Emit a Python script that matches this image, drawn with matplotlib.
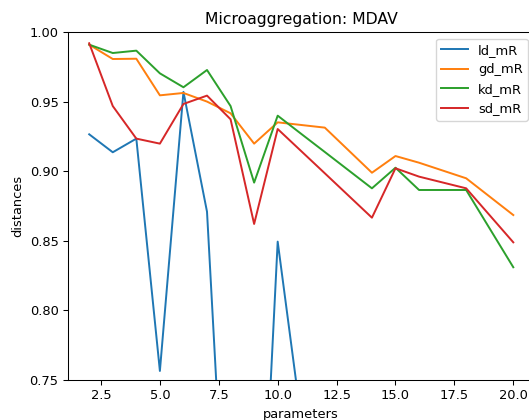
import matplotlib
matplotlib.use("Agg")
import matplotlib.pyplot as plt

# parameter values (x axis)
params = [2, 3, 4, 5, 6, 7, 8, 9, 10, 11, 12, 14, 15, 16, 18, 20]

# distances per measure
ld_mR = [0.9265, 0.9136, 0.9234, 0.7565, 0.9570, 0.8709, 0.56, 0.51, 0.8494, 0.721,
         0.62, 0.60, 0.63, 0.61, 0.60, 0.58]
gd_mR = [0.9909, 0.9806, 0.9808, 0.9545, 0.9562, 0.9500, 0.9416, 0.9198, 0.9351, 0.9332,
         0.9313, 0.8989, 0.9109, 0.9061, 0.8949, 0.8685]
kd_mR = [0.9909, 0.9849, 0.9866, 0.9703, 0.9603, 0.9727, 0.9468, 0.8918, 0.9399, 0.9268,
         0.9138, 0.8877, 0.9025, 0.8865, 0.8865, 0.8310]
sd_mR = [0.9919, 0.9468, 0.9234, 0.9198, 0.9483, 0.9543, 0.9373, 0.8621, 0.9303, 0.9144,
         0.8985, 0.8666, 0.9021, 0.8961, 0.8877, 0.8489]

series = {"ld_mR": ld_mR, "gd_mR": gd_mR, "kd_mR": kd_mR, "sd_mR": sd_mR}

s = 0.94  # scale relative to default sizes
plt.rcParams["font.size"] = 10 * s

W, H = 529, 420
fig = plt.figure(figsize=(W / 100, H / 100), dpi=100)
# axes run a little past the right edge of the image (cropped original)
ax = fig.add_axes([68 / W, (H - 380) / H, 466.5 / W, 348 / H])

for name, vals in series.items():
    ax.plot(params, vals, label=name, linewidth=1.5 * s)

ax.set_ylim(0.75, 1.0)
ax.set_title("Microaggregation: MDAV", fontsize=12 * s)
ax.set_xlabel("parameters")
ax.set_ylabel("distances")
ax.legend(loc="upper right")

for sp in ax.spines.values():
    sp.set_linewidth(0.8 * s)
ax.tick_params(width=0.8 * s, length=3.5 * s)

fig.savefig("out.png", dpi=100)
